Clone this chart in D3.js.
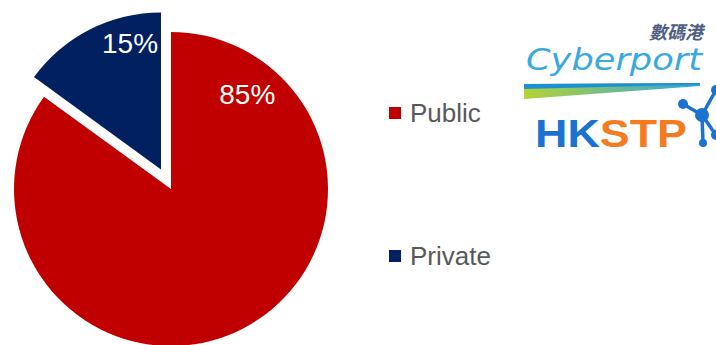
<!DOCTYPE html>
<html>
<head>
<meta charset="utf-8">
<script src="https://cdn.jsdelivr.net/npm/d3@7"></script>
<style>
  body { margin: 0; background: #fff; }
  svg { display: block; font-family: Arial, "Liberation Sans", sans-serif; }
</style>
</head>
<body>
<div id="chart"></div>
<script>
// data
var categories = ['Public', 'Private'];
var shares = [85, 15];
var colors = ['#c00000', '#002060'];

var width = 716, height = 345;
var cx = 171, cy = 189, radius = 157;

var svg = d3.select('#chart').append('svg')
    .attr('width', width)
    .attr('height', height);

var pie = d3.pie().sort(null).value(function (d) { return d; });
var arcs = pie(shares);
var arc = d3.arc().innerRadius(0).outerRadius(radius);

// only the private slice is pulled out
var explode = [0, 22];

var g = svg.append('g').attr('transform', 'translate(' + cx + ',' + cy + ')');

var slices = g.selectAll('.slice')
    .data(arcs)
    .enter().append('g')
    .attr('class', 'slice')
    .attr('transform', function (d, i) {
        var mid = (d.startAngle + d.endAngle) / 2;
        return 'translate(' + (Math.sin(mid) * explode[i]) + ',' + (-Math.cos(mid) * explode[i]) + ')';
    });

slices.append('path')
    .attr('d', arc)
    .style('fill', function (d, i) { return colors[i]; });

// label placement (angle in degrees from top, distance from slice vertex)
var labelPos = [{a: 38.7, r: 122}, {a: -13.8, r: 130}];
slices.append('text')
    .attr('x', function (d, i) { return Math.sin(labelPos[i].a * Math.PI / 180) * labelPos[i].r; })
    .attr('y', function (d, i) { return -Math.cos(labelPos[i].a * Math.PI / 180) * labelPos[i].r; })
    .attr('dy', '0.36em')
    .attr('text-anchor', 'middle')
    .style('fill', '#fff')
    .style('font-size', '28px')
    .text(function (d) { return d.data + '%'; });

// legend
var legendY = d3.scalePoint().domain(categories).range([113, 256]);
var legend = svg.selectAll('.legend')
    .data(categories)
    .enter().append('g')
    .attr('class', 'legend')
    .attr('transform', function (d) { return 'translate(389,' + legendY(d) + ')'; });

legend.append('rect')
    .attr('x', 0).attr('y', -6)
    .attr('width', 12).attr('height', 12)
    .style('fill', function (d, i) { return colors[i]; });

legend.append('text')
    .attr('x', 21).attr('y', 9)
    .style('font-size', '26px')
    .style('fill', '#595959')
    .text(function (d) { return d; });

// logos (drawn roughly)
var logo = svg.append('g').attr('class', 'logos');

logo.append('text')
    .attr('x', 703).attr('y', 39)
    .attr('text-anchor', 'end')
    .style('font-family', '"Noto Sans CJK TC", sans-serif')
    .style('font-size', '18px')
    .style('font-style', 'italic')
    .style('font-weight', 'bold')
    .style('fill', '#4f5f82')
    .text('數碼港');

logo.append('text')
    .attr('x', 526).attr('y', 70)
    .attr('textLength', 176)
    .attr('lengthAdjust', 'spacingAndGlyphs')
    .style('font-family', '"DejaVu Sans", sans-serif')
    .style('font-size', '31px')
    .style('font-style', 'italic')
    .style('font-weight', 300)
    .style('fill', '#3aa9dd')
    .text('Cyberport');

var grad = svg.append('defs').append('linearGradient')
    .attr('id', 'stripe').attr('x1', 0).attr('x2', 1).attr('y1', 0).attr('y2', 0);
grad.append('stop').attr('offset', '0%').attr('stop-color', '#b5d334');
grad.append('stop').attr('offset', '100%').attr('stop-color', '#2aa6de');

logo.append('path')
    .attr('d', 'M524,84 L700,83 L700,86 L524,99 Z')
    .style('fill', 'url(#stripe)');
logo.append('path')
    .attr('d', 'M524,84 L700,83 L700,84.5 L524,89 Z')
    .style('fill', '#1e8fd3');

logo.append('text')
    .attr('x', 535).attr('y', 147)
    .attr('textLength', 152)
    .attr('lengthAdjust', 'spacingAndGlyphs')
    .style('font-size', '39px')
    .style('font-weight', 'bold')
    .style('fill', '#1a73d1')
    .text('HK')
  .append('tspan')
    .style('fill', '#f47b20')
    .text('STP');

var hub = [702, 115, 7];
var nodes = [[683, 104, 5], [716, 90, 5], [716, 135, 5], [703, 143, 4]];
logo.selectAll('line.bond')
    .data(nodes)
    .enter().append('line')
    .attr('class', 'bond')
    .attr('x1', hub[0]).attr('y1', hub[1])
    .attr('x2', function (d) { return d[0]; })
    .attr('y2', function (d) { return d[1]; })
    .style('stroke', '#1a73d1')
    .style('stroke-width', 3.5);
logo.selectAll('circle.node')
    .data([hub].concat(nodes))
    .enter().append('circle')
    .attr('class', 'node')
    .attr('cx', function (d) { return d[0]; })
    .attr('cy', function (d) { return d[1]; })
    .attr('r', function (d) { return d[2]; })
    .style('fill', '#1a73d1');
</script>
</body>
</html>
